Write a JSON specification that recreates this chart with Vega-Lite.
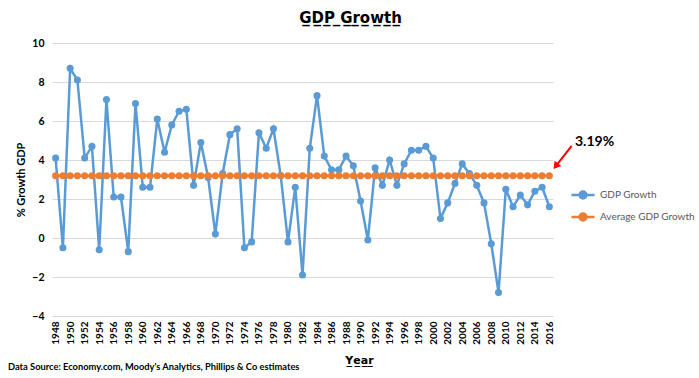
{
  "$schema": "https://vega.github.io/schema/vega-lite/v6.json",
  "width": 501,
  "height": 273,
  "autosize": {"type": "none"},
  "padding": {"left": 52, "top": 43, "right": 146, "bottom": 62},
  "background": "white",
  "config": {
    "font": "Lato",
    "view": {"stroke": null},
    "axis": {"labelFont": "Lato", "titleFont": "Lato"}
  },
  "title": {
    "text": "G̲D̲P̲ ̲G̲r̲o̲w̲t̲h̲",
    "anchor": "middle",
    "dx": 48,
    "offset": 12,
    "fontSize": 15,
    "fontWeight": "bold",
    "color": "#000000",
    "font": "DejaVu Sans"
  },
  "layer": [
    {
      "data": {
        "values": [
          {"year": 1948, "GDP Growth": 4.1, "Average GDP Growth": 3.19},
          {"year": 1949, "GDP Growth": -0.5, "Average GDP Growth": 3.19},
          {"year": 1950, "GDP Growth": 8.7, "Average GDP Growth": 3.19},
          {"year": 1951, "GDP Growth": 8.1, "Average GDP Growth": 3.19},
          {"year": 1952, "GDP Growth": 4.1, "Average GDP Growth": 3.19},
          {"year": 1953, "GDP Growth": 4.7, "Average GDP Growth": 3.19},
          {"year": 1954, "GDP Growth": -0.6, "Average GDP Growth": 3.19},
          {"year": 1955, "GDP Growth": 7.1, "Average GDP Growth": 3.19},
          {"year": 1956, "GDP Growth": 2.1, "Average GDP Growth": 3.19},
          {"year": 1957, "GDP Growth": 2.1, "Average GDP Growth": 3.19},
          {"year": 1958, "GDP Growth": -0.7, "Average GDP Growth": 3.19},
          {"year": 1959, "GDP Growth": 6.9, "Average GDP Growth": 3.19},
          {"year": 1960, "GDP Growth": 2.6, "Average GDP Growth": 3.19},
          {"year": 1961, "GDP Growth": 2.6, "Average GDP Growth": 3.19},
          {"year": 1962, "GDP Growth": 6.1, "Average GDP Growth": 3.19},
          {"year": 1963, "GDP Growth": 4.4, "Average GDP Growth": 3.19},
          {"year": 1964, "GDP Growth": 5.8, "Average GDP Growth": 3.19},
          {"year": 1965, "GDP Growth": 6.5, "Average GDP Growth": 3.19},
          {"year": 1966, "GDP Growth": 6.6, "Average GDP Growth": 3.19},
          {"year": 1967, "GDP Growth": 2.7, "Average GDP Growth": 3.19},
          {"year": 1968, "GDP Growth": 4.9, "Average GDP Growth": 3.19},
          {"year": 1969, "GDP Growth": 3.1, "Average GDP Growth": 3.19},
          {"year": 1970, "GDP Growth": 0.2, "Average GDP Growth": 3.19},
          {"year": 1971, "GDP Growth": 3.3, "Average GDP Growth": 3.19},
          {"year": 1972, "GDP Growth": 5.3, "Average GDP Growth": 3.19},
          {"year": 1973, "GDP Growth": 5.6, "Average GDP Growth": 3.19},
          {"year": 1974, "GDP Growth": -0.5, "Average GDP Growth": 3.19},
          {"year": 1975, "GDP Growth": -0.2, "Average GDP Growth": 3.19},
          {"year": 1976, "GDP Growth": 5.4, "Average GDP Growth": 3.19},
          {"year": 1977, "GDP Growth": 4.6, "Average GDP Growth": 3.19},
          {"year": 1978, "GDP Growth": 5.6, "Average GDP Growth": 3.19},
          {"year": 1979, "GDP Growth": 3.2, "Average GDP Growth": 3.19},
          {"year": 1980, "GDP Growth": -0.2, "Average GDP Growth": 3.19},
          {"year": 1981, "GDP Growth": 2.6, "Average GDP Growth": 3.19},
          {"year": 1982, "GDP Growth": -1.9, "Average GDP Growth": 3.19},
          {"year": 1983, "GDP Growth": 4.6, "Average GDP Growth": 3.19},
          {"year": 1984, "GDP Growth": 7.3, "Average GDP Growth": 3.19},
          {"year": 1985, "GDP Growth": 4.2, "Average GDP Growth": 3.19},
          {"year": 1986, "GDP Growth": 3.5, "Average GDP Growth": 3.19},
          {"year": 1987, "GDP Growth": 3.5, "Average GDP Growth": 3.19},
          {"year": 1988, "GDP Growth": 4.2, "Average GDP Growth": 3.19},
          {"year": 1989, "GDP Growth": 3.7, "Average GDP Growth": 3.19},
          {"year": 1990, "GDP Growth": 1.9, "Average GDP Growth": 3.19},
          {"year": 1991, "GDP Growth": -0.1, "Average GDP Growth": 3.19},
          {"year": 1992, "GDP Growth": 3.6, "Average GDP Growth": 3.19},
          {"year": 1993, "GDP Growth": 2.7, "Average GDP Growth": 3.19},
          {"year": 1994, "GDP Growth": 4.0, "Average GDP Growth": 3.19},
          {"year": 1995, "GDP Growth": 2.7, "Average GDP Growth": 3.19},
          {"year": 1996, "GDP Growth": 3.8, "Average GDP Growth": 3.19},
          {"year": 1997, "GDP Growth": 4.5, "Average GDP Growth": 3.19},
          {"year": 1998, "GDP Growth": 4.5, "Average GDP Growth": 3.19},
          {"year": 1999, "GDP Growth": 4.7, "Average GDP Growth": 3.19},
          {"year": 2000, "GDP Growth": 4.1, "Average GDP Growth": 3.19},
          {"year": 2001, "GDP Growth": 1.0, "Average GDP Growth": 3.19},
          {"year": 2002, "GDP Growth": 1.8, "Average GDP Growth": 3.19},
          {"year": 2003, "GDP Growth": 2.8, "Average GDP Growth": 3.19},
          {"year": 2004, "GDP Growth": 3.8, "Average GDP Growth": 3.19},
          {"year": 2005, "GDP Growth": 3.3, "Average GDP Growth": 3.19},
          {"year": 2006, "GDP Growth": 2.7, "Average GDP Growth": 3.19},
          {"year": 2007, "GDP Growth": 1.8, "Average GDP Growth": 3.19},
          {"year": 2008, "GDP Growth": -0.3, "Average GDP Growth": 3.19},
          {"year": 2009, "GDP Growth": -2.8, "Average GDP Growth": 3.19},
          {"year": 2010, "GDP Growth": 2.5, "Average GDP Growth": 3.19},
          {"year": 2011, "GDP Growth": 1.6, "Average GDP Growth": 3.19},
          {"year": 2012, "GDP Growth": 2.2, "Average GDP Growth": 3.19},
          {"year": 2013, "GDP Growth": 1.7, "Average GDP Growth": 3.19},
          {"year": 2014, "GDP Growth": 2.4, "Average GDP Growth": 3.19},
          {"year": 2015, "GDP Growth": 2.6, "Average GDP Growth": 3.19},
          {"year": 2016, "GDP Growth": 1.6, "Average GDP Growth": 3.19}
        ]
      },
      "transform": [
        {"fold": ["GDP Growth", "Average GDP Growth"], "as": ["series", "value"]}
      ],
      "mark": {
        "type": "line",
        "strokeWidth": 2.5,
        "clip": false,
        "point": {"filled": true, "size": 50, "opacity": 1}
      },
      "encoding": {
        "x": {
          "field": "year",
          "type": "quantitative",
          "scale": {"domain": [1947.5, 2016.5], "nice": false, "zero": false},
          "axis": {
            "values": [1948,1950,1952,1954,1956,1958,1960,1962,1964,1966,1968,1970,1972,1974,1976,1978,1980,1982,1984,1986,1988,1990,1992,1994,1996,1998,2000,2002,2004,2006,2008,2010,2012,2014,2016],
            "tickCount": 100,
            "format": "d",
            "labelAngle": -90,
            "labelAlign": "right",
            "labelBaseline": "middle",
            "labelPadding": 5,
            "labelFontSize": 10,
            "labelColor": "#000000",
            "labelFontWeight": "bold",
            "labelOverlap": false,
            "labelBound": false,
            "grid": false,
            "ticks": false,
            "domain": false,
            "title": "Y̲e̲a̲r̲",
            "titleFont": "DejaVu Sans",
            "titleFontSize": 11,
            "titleFontWeight": "bold",
            "titleColor": "#000000",
            "titleX": 307,
            "titleY": 44,
            "titleAlign": "center",
            "titleBaseline": "middle"
          }
        },
        "y": {
          "field": "value",
          "type": "quantitative",
          "scale": {"domain": [-4, 10], "nice": false},
          "axis": {
            "values": [-4, -2, 0, 2, 4, 6, 8, 10],
            "tickCount": 20,
            "format": "d",
            "grid": true,
            "gridColor": "#d9d9d9",
            "gridWidth": 1,
            "ticks": false,
            "domain": false,
            "labelOverlap": false,
            "labelPadding": 8,
            "labelFontSize": 10.5,
            "labelFontWeight": "bold",
            "labelColor": "#000000",
            "title": "% Growth GDP",
            "titleFontSize": 11,
            "titleFontWeight": "bold",
            "titleColor": "#000000",
            "titlePadding": 5
          }
        },
        "color": {
          "field": "series",
          "type": "nominal",
          "scale": {"domain": ["GDP Growth", "Average GDP Growth"], "range": ["#5b9bd5", "#ed7d31"]},
          "legend": {
            "title": null,
            "orient": "none",
            "legendX": 518,
            "legendY": 139,
            "symbolType": "M-1,0L1,0M-0.3,0A0.3,0.3,0,1,1,0.3,0A0.3,0.3,0,1,1,-0.3,0Z",
            "symbolSize": 529,
            "symbolStrokeWidth": 2.5,
            "labelFontSize": 10,
            "labelColor": "#595959",
            "labelFont": "Lato",
            "labelOffset": 4,
            "rowPadding": 0,
            "encode": {
              "symbols": {"update": {"fill": {"scale": "color", "field": "value"}}}
            }
          }
        }
      }
    },
    {
      "data": {"values": [{"x1": 2019.07, "y1": 4.72, "x2": 2016.88, "y2": 3.68}]},
      "mark": {"type": "rule", "color": "#ff0000", "strokeWidth": 2, "clip": false},
      "encoding": {
        "x": {"field": "x1", "type": "quantitative"},
        "y": {"field": "y1", "type": "quantitative"},
        "x2": {"field": "x2"},
        "y2": {"field": "y2"}
      }
    },
    {
      "data": {"values": [{"x": 2016.88, "y": 3.68}]},
      "mark": {"type": "point", "shape": "triangle-up", "filled": true, "color": "#ff0000", "size": 70, "angle": 218, "opacity": 1, "clip": false},
      "encoding": {
        "x": {"field": "x", "type": "quantitative"},
        "y": {"field": "y", "type": "quantitative"}
      }
    },
    {
      "data": {"values": [{"x": 2019.53, "y": 4.92, "label": "3.19%"}]},
      "mark": {"type": "text", "align": "left", "baseline": "middle", "fontSize": 14, "fontWeight": "bold", "color": "#000000", "clip": false},
      "encoding": {
        "x": {"field": "x", "type": "quantitative"},
        "y": {"field": "y", "type": "quantitative"},
        "text": {"field": "label"}
      }
    },
    {
      "data": {"values": [{"x": 1941.44, "y": -6.62, "label": "Data Source: Economy.com, Moody's Analytics, Phillips & Co estimates"}]},
      "mark": {"type": "text", "align": "left", "baseline": "middle", "fontSize": 9.3, "fontWeight": "bold", "color": "#000000", "clip": false},
      "encoding": {
        "x": {"field": "x", "type": "quantitative"},
        "y": {"field": "y", "type": "quantitative"},
        "text": {"field": "label"}
      }
    }
  ]
}
